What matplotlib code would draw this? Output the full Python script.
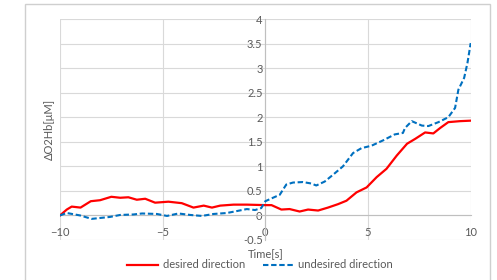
import matplotlib
matplotlib.use('Agg')
import matplotlib.pyplot as plt
from matplotlib.patches import Rectangle

# desired direction (red)
t_desired = [-10, -9.67, -9.43, -9.0, -8.5, -8.05, -7.5, -7.07, -6.67, -6.26,
             -5.85, -5.37, -4.72, -4.07, -3.5, -3.0, -2.6, -2.2, -1.55, -0.9,
             0, 0.3, 0.78, 1.18, 1.67, 2.08, 2.57, 3.05, 3.54, 3.95,
             4.44, 4.93, 5.42, 5.9, 6.4, 6.9, 7.3, 7.78, 8.18, 8.51,
             8.91, 9.48, 10]
v_desired = [0, 0.12, 0.18, 0.16, 0.29, 0.31, 0.38, 0.36, 0.37, 0.32,
             0.34, 0.26, 0.28, 0.25, 0.16, 0.2, 0.16, 0.2, 0.22, 0.22,
             0.21, 0.21, 0.12, 0.13, 0.08, 0.12, 0.10, 0.16, 0.23, 0.30,
             0.47, 0.57, 0.78, 0.95, 1.22, 1.46, 1.56, 1.69, 1.67, 1.78,
             1.90, 1.92, 1.93]

# undesired direction (blue dashed)
t_undesired = [-10, -9.67, -9.02, -8.46, -7.56, -7.07, -6.42, -6.0, -5.28, -4.79,
               -4.23, -3.66, -3.09, -2.52, -1.87, -1.38, -0.9, -0.5, -0.2, 0,
               0.37, 0.7, 1.02, 1.35, 1.83, 2.24, 2.48, 2.89, 3.3, 3.78,
               4.27, 4.68, 5.17, 5.74, 6.3, 6.7, 6.8, 7.13, 7.62, 7.94,
               8.43, 8.91, 9.24, 9.4, 9.68, 9.84, 10]
v_undesired = [0, 0.05, 0, -0.07, -0.03, 0.01, 0.02, 0.04, 0.03, -0.01,
               0.04, 0.01, -0.01, 0.03, 0.05, 0.09, 0.13, 0.11, 0.15, 0.29,
               0.36, 0.42, 0.63, 0.67, 0.68, 0.65, 0.61, 0.69, 0.83, 1.0,
               1.27, 1.37, 1.42, 1.53, 1.65, 1.68, 1.78, 1.92, 1.83, 1.82,
               1.9, 2.0, 2.19, 2.56, 2.80, 3.10, 3.51]

x_ticks = [-10, -5, 0, 5, 10]
y_ticks = [-0.5, 0, 0.5, 1, 1.5, 2, 2.5, 3, 3.5, 4]

plt.rcParams['font.family'] = ['Lato', 'DejaVu Sans']
grey_text = '#595959'
grid_col = '#d9d9d9'

fig = plt.figure(figsize=(4.97, 2.8), dpi=100)
ax = fig.add_axes([60 / 497, 1 - 240 / 280, 410.7 / 497, 221 / 280])

# outer chart border
fig.patches.append(Rectangle((25 / 497, -0.05), 465 / 497, 1.036, transform=fig.transFigure,
                             fill=False, edgecolor='#cfcfcf', linewidth=1))

ax.plot(t_desired, v_desired, color='#ff0000', linewidth=1.6,
        solid_joinstyle='round', label='desired direction', zorder=3)
ax.plot(t_undesired, v_undesired, color='#0070c0', linewidth=1.5,
        dashes=(2.6, 1.3), label='undesired direction', zorder=3)

ax.set_xlim(-10, 10)
ax.set_ylim(-0.5, 4)
ax.set_xticks(x_ticks)
ax.set_yticks(y_ticks)
ax.set_yticklabels(['-0.5', '0', '0.5', '1', '1.5', '2', '2.5', '3', '3.5', '4'])
ax.grid(True, color=grid_col, linewidth=0.8)
ax.set_axisbelow(True)

for s in ['top', 'right']:
    ax.spines[s].set_visible(False)
ax.spines['left'].set_position(('data', 0))
ax.spines['bottom'].set_position(('data', 0))
ax.spines['left'].set_color('#bfbfbf')
ax.spines['bottom'].set_color('#bfbfbf')

ax.tick_params(axis='both', length=0, labelsize=8, labelcolor=grey_text)
ax.tick_params(axis='x', pad=8)
ax.tick_params(axis='y', pad=2)

ax.set_xlabel('Time[s]', fontsize=8, color=grey_text)
ax.xaxis.set_label_coords(0.5, -0.035)
ax.set_ylabel('ΔO2Hb[μM]', fontsize=8, color=grey_text)
ax.yaxis.set_label_coords(-5 / 410.7, 0.5)

fig.legend(loc='center', bbox_to_anchor=(260 / 497, 1 - 265 / 280), ncol=2,
           frameon=False, fontsize=8, labelcolor=grey_text,
           handlelength=2.8, handletextpad=0.4, columnspacing=1.6)

fig.savefig('out.png', dpi=100)
